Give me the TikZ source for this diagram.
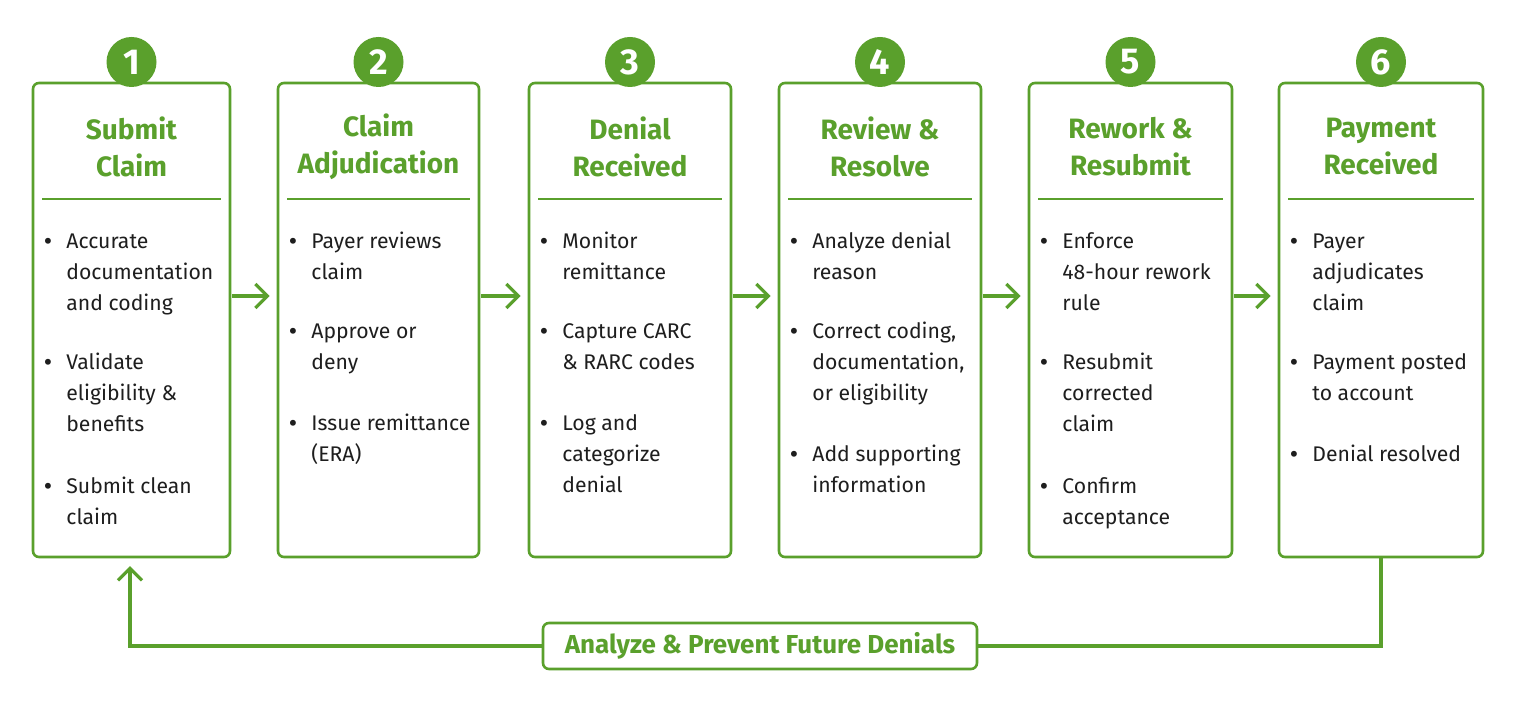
\documentclass[tikz,border=0pt]{standalone}
\usepackage{fontspec}
\setmainfont{Fira Sans}
\usetikzlibrary{arrows.meta}
\definecolor{gr}{HTML}{5AA02C}
\definecolor{tx}{HTML}{1E1E1E}
\begin{document}
\begin{tikzpicture}[x=0.5pt,y=-0.5pt,
 box/.style={draw=gr,line width=1.3pt,rounded corners=3pt},
 num/.style={circle,fill=gr,minimum size=25pt,inner sep=0,text=white,font=\fontsize{18}{18}\selectfont\bfseries},
 ttl/.style={text=gr,align=center,font=\fontsize{14}{18.5}\selectfont\bfseries},
 bt/.style={anchor=north west,inner sep=0,align=left,text=tx,font=\fontsize{10.6}{15.5}\selectfont},
 arr/.style={draw=gr,line width=1.6pt,-{Straight Barb[length=6pt,width=12pt]}}]
\useasboundingbox (0,0) rectangle (1519,705);
\fill[white] (0,0) rectangle (1519,705);
\newcommand{\stage}[8]{%
 \draw[box] (#1,83) rectangle (#2,557);
 \node[draw=none,inner sep=0] (b#3) at ({(#1+#2)/2},320) [minimum width={(#2-#1)*0.5pt},minimum height=237pt]{};
 \node[num] (n#3) at ({(#1+#2)/2},62){#3};
 \node[ttl] (t#3) at ({(#1+#2)/2},147){#4};
 \draw[gr,line width=1pt] (#1+9,199) -- (#2-9,199);
 \foreach \yy/\tt in {#5,#6,#7}{\node[bt] at (#1+11,\yy-14){\strut\textbf{•}};\node[bt] at (#1+33,\yy-14){\strut\tt};}
}
\stage{33}{230}{1}{Submit\\Claim}{240/{Accurate\\documentation\\and coding}}{361/{Validate\\eligibility \&\\benefits}}{485/{Submit clean\\claim}}{}
\stage{278}{479}{2}{Claim\\Adjudication}{240/{Payer reviews\\claim}}{330/{Approve or\\deny}}{422/{Issue remittance\\(ERA)}}{}
\stage{529}{731}{3}{Denial\\Received}{240/{Monitor\\remittance}}{330/{Capture CARC\\\& RARC codes}}{422/{Log and\\categorize\\denial}}{}
\stage{779}{981}{4}{Review \&\\Resolve}{240/{Analyze denial\\reason}}{330/{Correct coding,\\documentation,\\or eligibility}}{453/{Add supporting\\information}}{}
\stage{1029}{1232}{5}{Rework \&\\Resubmit}{240/{Enforce\\48-hour rework\\rule}}{361/{Resubmit\\corrected\\claim}}{485/{Confirm\\acceptance}}{}
\stage{1279}{1483}{6}{Payment\\Received}{240/{Payer\\adjudicates\\claim}}{361/{Payment posted\\to account}}{453/{Denial resolved}}{}
\foreach \a/\b in {1/2,2/3,3/4,4/5,5/6}{\draw[arr] (b\a.east|-0,296) ++(2,0) -- ([xshift=-4pt]b\b.west|-0,296);}
\node[draw=gr,line width=1.3pt,rounded corners=3pt,minimum width=217pt,minimum height=23pt,text=gr,font=\fontsize{13}{13}\selectfont\bfseries] (fb) at (760,646){Analyze \& Prevent Future Denials};
\coordinate (c6) at (1381,557);
\coordinate (c1) at (130,566);
\draw[gr,line width=1.6pt] (c6) |- (fb.east);
\draw[arr] (fb.west) -| (c1);
\end{tikzpicture}
\end{document}
